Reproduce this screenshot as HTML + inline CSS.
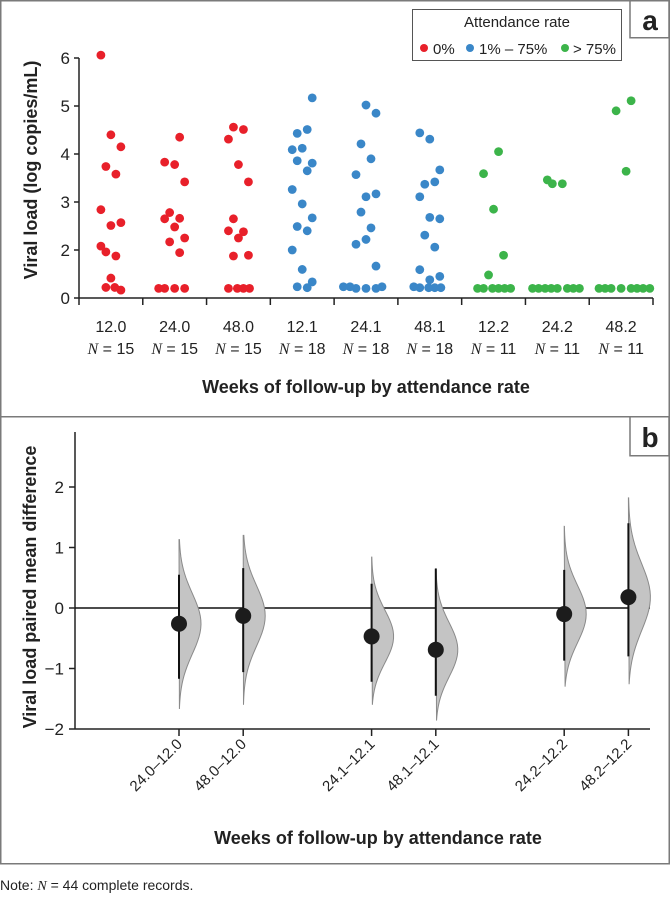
<!DOCTYPE html>
<html><head><meta charset="utf-8"><style>
body{margin:0;background:#fff;width:670px;height:894px;overflow:hidden;font-family:"Liberation Sans",sans-serif}
svg text{font-family:"Liberation Sans",sans-serif;fill:#222}
</style></head><body>
<svg id="chart" width="670" height="894" viewBox="0 0 670 894" xmlns="http://www.w3.org/2000/svg">
<rect x="0.75" y="0.75" width="668.5" height="416" fill="none" stroke="#7a7a7a" stroke-width="1.5"/>
<rect x="0.75" y="416.75" width="668.5" height="447" fill="none" stroke="#7a7a7a" stroke-width="1.5"/>
<g><rect x="630" y="0.75" width="39" height="37" fill="#fff" stroke="#7a7a7a" stroke-width="1.5"/><text x="650" y="30" font-size="28" font-weight="bold" text-anchor="middle">a</text></g>
<g><rect x="630" y="416.75" width="39" height="39" fill="#fff" stroke="#7a7a7a" stroke-width="1.5"/><text x="650" y="447" font-size="28" font-weight="bold" text-anchor="middle">b</text></g>
<g>
<rect x="412.5" y="9.5" width="209" height="51" fill="#fff" stroke="#555" stroke-width="1"/>
<text x="517" y="27" font-size="15" text-anchor="middle">Attendance rate</text>
<g><circle cx="424" cy="48" r="4" fill="#e8202a"/><text x="433" y="54" font-size="15">0%</text></g>
<g><circle cx="470" cy="48" r="4" fill="#3a87c8"/><text x="479" y="54" font-size="15">1% – 75%</text></g>
<g><circle cx="565" cy="48" r="4" fill="#3cb44a"/><text x="573" y="54" font-size="15">&gt; 75%</text></g>
</g>
<g id="pa"></g><g id="pb"></g>
<text x="0" y="890" font-size="14">Note: <tspan font-family="Liberation Serif" font-style="italic">N</tspan> = 44 complete records.</text>
</svg>
<script>
const NS="http://www.w3.org/2000/svg";
const aCats=["12.0","24.0","48.0","12.1","24.1","48.1","12.2","24.2","48.2"];
const aN=[15,15,15,18,18,18,11,11,11];
const aGroup=[0,0,0,1,1,1,2,2,2];
const aColors=["#e8202a","#3a87c8","#3cb44a"];
const aValues=[
[6.06,4.40,4.15,3.74,3.58,2.84,2.51,2.57,1.92,1.75,2.08,0.83,0.33,0.44,0.44],
[4.35,3.83,3.78,3.42,2.78,2.66,2.65,2.48,2.25,2.17,1.89,0.40,0.40,0.40,0.40],
[4.56,4.51,4.31,3.78,3.42,2.65,2.38,2.40,2.25,1.78,1.75,0.40,0.40,0.40,0.40],
[5.17,4.43,4.51,4.09,4.12,3.81,3.86,3.65,3.26,2.96,2.67,2.49,2.40,2.00,1.19,0.67,0.47,0.43],
[5.02,4.85,4.21,3.90,3.57,3.11,3.17,2.79,2.46,2.12,2.22,1.33,0.47,0.47,0.40,0.40,0.40,0.47],
[4.44,4.31,3.67,3.37,3.42,3.11,2.68,2.65,2.31,2.06,1.18,0.76,0.90,0.47,0.43,0.43,0.43,0.43],
[4.05,3.59,2.85,1.78,0.96,0.40,0.40,0.40,0.40,0.40,0.40],
[3.38,3.38,3.46,0.40,0.40,0.40,0.40,0.40,0.40,0.40,0.40],
[5.11,4.90,3.64,0.40,0.40,0.40,0.40,0.40,0.40,0.40,0.40]];
const aTicks=[0,2,3,4,5,6];
const bCats=["24.0–12.0","48.0–12.0","24.1–12.1","48.1–12.1","24.2–12.2","48.2–12.2"];
const bSlots=[0,1,3,4,6,7];
const bMean=[-0.26,-0.13,-0.47,-0.69,-0.10,0.18];
const bLo=[-1.17,-1.06,-1.22,-1.45,-0.87,-0.80];
const bHi=[0.55,0.66,0.40,0.65,0.63,1.40];
const bDistMin=[-1.67,-1.60,-1.60,-1.86,-1.30,-1.26];
const bDistMax=[1.13,1.20,0.84,0.65,1.35,1.82];
const bTicks=[-2,-1,0,1,2];

function mk(p,tag,at,txt){const e=document.createElementNS(NS,tag);for(const k in at)e.setAttribute(k,at[k]);if(txt!=null)e.textContent=txt;p.appendChild(e);return e;}
const axL=79,axR=653;
const bw=(axR-axL)/aCats.length;
const ax=i=>axL+bw*(i+0.5);
const ay=v=>v>=2?250-(v-2)*48:298-v*24;
const pa=document.getElementById('pa');
let l=mk(pa,'line',{x1:axL,y1:58,x2:axL,y2:298,stroke:'#222','stroke-width':1.5});


l=mk(pa,'line',{x1:axL,y1:298,x2:axR,y2:298,stroke:'#222','stroke-width':1.5});


aTicks.forEach(t=>{const y=ay(t);
 mk(pa,'line',{x1:axL-5,y1:y,x2:axL,y2:y,stroke:'#222','stroke-width':1.5});
 const tx=mk(pa,'text',{x:axL-9,y:y+6,'font-size':17,'text-anchor':'end'},String(t));
 
 });
for(let i=0;i<=aCats.length;i++){const x=axL+bw*i;mk(pa,'line',{x1:x,y1:298,x2:x,y2:305,stroke:'#222','stroke-width':1.5});}
aCats.forEach((c,i)=>{
 const t=mk(pa,'text',{x:ax(i),y:332,'font-size':16,'text-anchor':'middle'},c);
 
 
 const t2=mk(pa,'text',{x:ax(i),y:354,'font-size':16,'text-anchor':'middle'});
 
 
 mk(t2,'tspan',{'font-family':'Liberation Serif','font-style':'italic'},'N');
 mk(t2,'tspan',{},' = '+aN[i]);
 const idx=aValues[i].map((v,k)=>k).sort((a,b)=>aValues[i][a]-aValues[i][b]);
 const placed=[];const D=6;
 idx.forEach(k0=>{const v=aValues[i][k0];const y=ay(v);
  const j=(((k0*7+i*3)%5)-2)*5;let best=j;
  for(let k=0;k<60;k++){const cands=k===0?[j]:[j+k*1.1,j-k*1.1];let ok=null;
   for(const o of cands){if(placed.every(p=>Math.hypot(p[0]-o,p[1]-y)>=D)){ok=o;break;}}
   if(ok!==null){best=ok;break;}}
  placed.push([best,y]);
  const cc=mk(pa,'circle',{cx:ax(i)+best,cy:y,r:4.4,fill:aColors[aGroup[i]]});
  
  });
});
let tt=mk(pa,'text',{x:0,y:0,'font-size':18,'font-weight':'bold','text-anchor':'middle',transform:'translate(37,170) rotate(-90)'},'Viral load (log copies/mL)');


tt=mk(pa,'text',{x:366,y:393,'font-size':18,'font-weight':'bold','text-anchor':'middle'},'Weeks of follow-up by attendance rate');



const pb=document.getElementById('pb');
const bL=75,bR=650;
const bx=s=>179+s*64.2;
const by=v=>608-v*60.5;
l=mk(pb,'line',{x1:bL,y1:432,x2:bL,y2:by(-2),stroke:'#222','stroke-width':1.5});


l=mk(pb,'line',{x1:bL,y1:by(-2),x2:bR,y2:by(-2),stroke:'#222','stroke-width':1.5});


l=mk(pb,'line',{x1:bL,y1:by(0),x2:bR,y2:by(0),stroke:'#111','stroke-width':1.5});


bTicks.forEach(t=>{const y=by(t);
 mk(pb,'line',{x1:bL-6,y1:y,x2:bL,y2:y,stroke:'#222','stroke-width':1.5});
 const tx=mk(pb,'text',{x:bL-11,y:y+6,'font-size':17,'text-anchor':'end'},t<0?'−'+(-t):String(t));
 
 });
bCats.forEach((c,i)=>{const x=bx(bSlots[i]);
 mk(pb,'line',{x1:x,y1:by(-2),x2:x,y2:by(-2)+7,stroke:'#222','stroke-width':1.5});
 const m=bMean[i],lo=bDistMin[i],hi=bDistMax[i];
 const sd=(hi-lo)/5.6;let d='M'+x+','+by(hi);const W=22;const n=40;
 for(let k=0;k<=n;k++){const v=hi-(hi-lo)*k/n;const w=W*Math.exp(-0.5*((v-m)/sd)**2);d+=' L'+(x+w).toFixed(2)+','+by(v).toFixed(2);}
 d+=' Z';
 const p=mk(pb,'path',{d:d,fill:'#c4c4c4',stroke:'#8a8a8a','stroke-width':1});
 
 
 const ci=mk(pb,'line',{x1:x,y1:by(bLo[i]),x2:x,y2:by(bHi[i]),stroke:'#111','stroke-width':2});
 
 
 const dot=mk(pb,'circle',{cx:x,cy:by(m),r:8,fill:'#1c1c1c'});
 
 
 const t=mk(pb,'text',{x:0,y:0,'font-size':15,'text-anchor':'end',transform:'translate('+(x+4)+','+(by(-2)+16)+') rotate(-45)'},c);
 
 
});
tt=mk(pb,'text',{x:0,y:0,'font-size':18,'font-weight':'bold','text-anchor':'middle',transform:'translate(36,587) rotate(-90)'},'Viral load paired mean difference');


tt=mk(pb,'text',{x:378,y:844,'font-size':18,'font-weight':'bold','text-anchor':'middle'},'Weeks of follow-up by attendance rate');


</script>
</body></html>
